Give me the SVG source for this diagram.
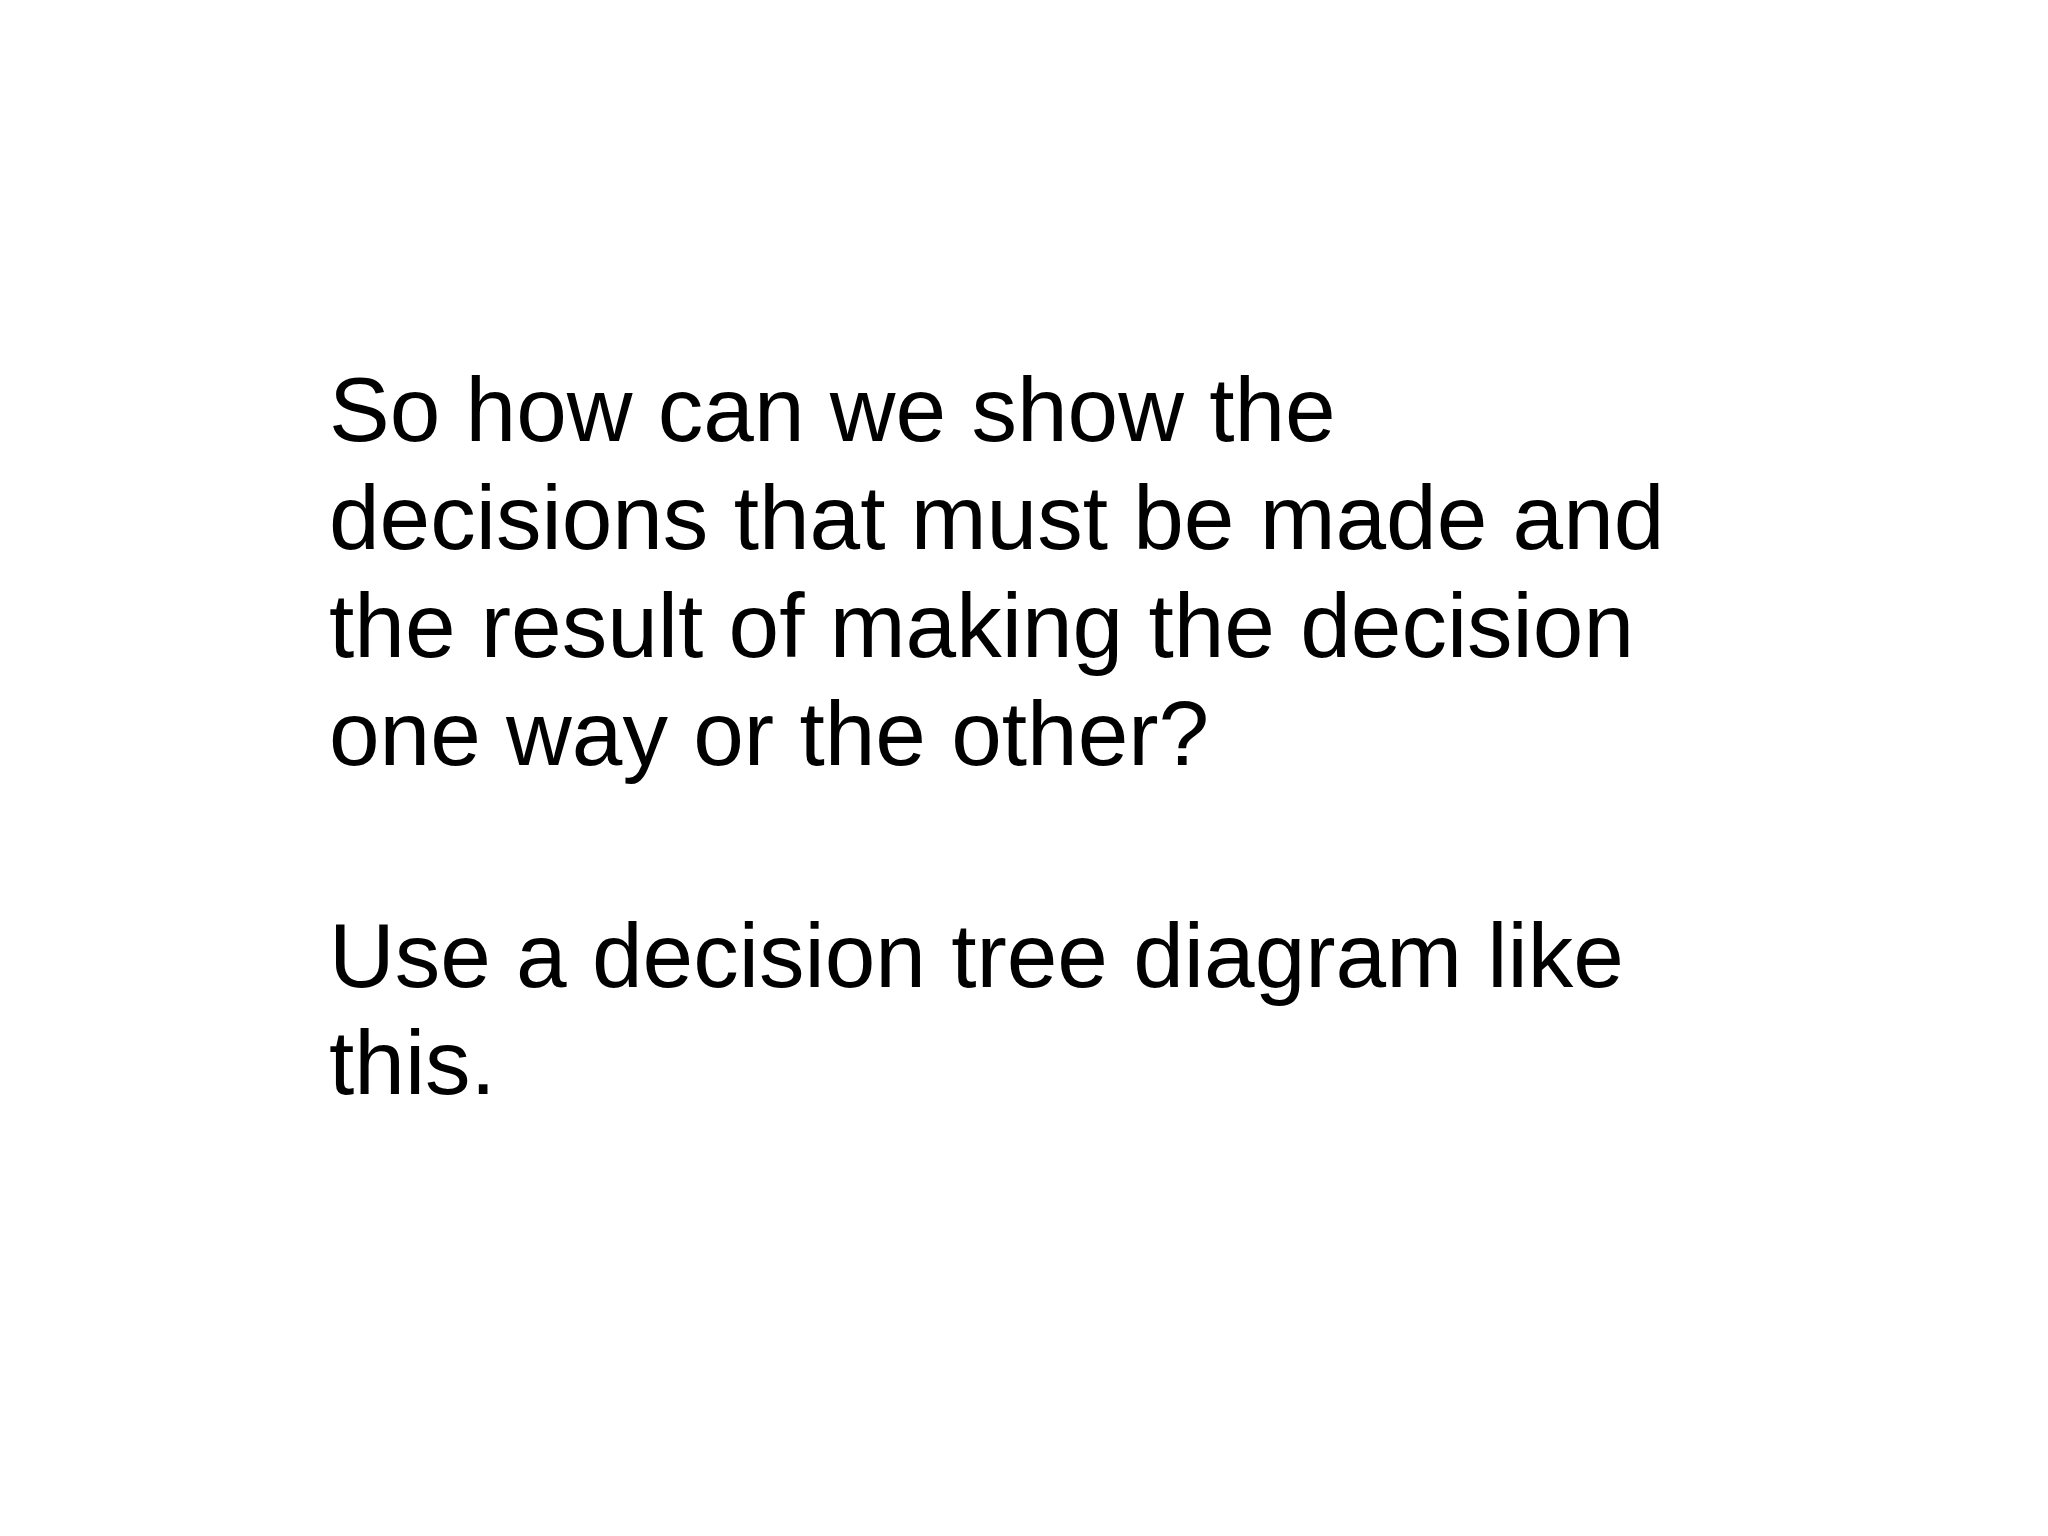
<svg xmlns="http://www.w3.org/2000/svg" width="2048" height="1536" viewBox="0 0 2048 1536">
<style>.t{font-family:"Liberation Sans",Arial,sans-serif;font-size:91px;fill:#000}</style>
<rect width="2048" height="1536" fill="#fff"/>
<g id="body">
<text class="t" x="329" y="441">So how can we show the</text>
<text class="t" x="329" y="549">decisions that must be made and</text>
<text class="t" x="329" y="657">the result of making the decision</text>
<text class="t" x="329" y="765">one way or the other?</text>
<text class="t" x="329" y="987">Use a decision tree diagram like</text>
<text class="t" x="329" y="1094">this.</text>
</g>
</svg>
